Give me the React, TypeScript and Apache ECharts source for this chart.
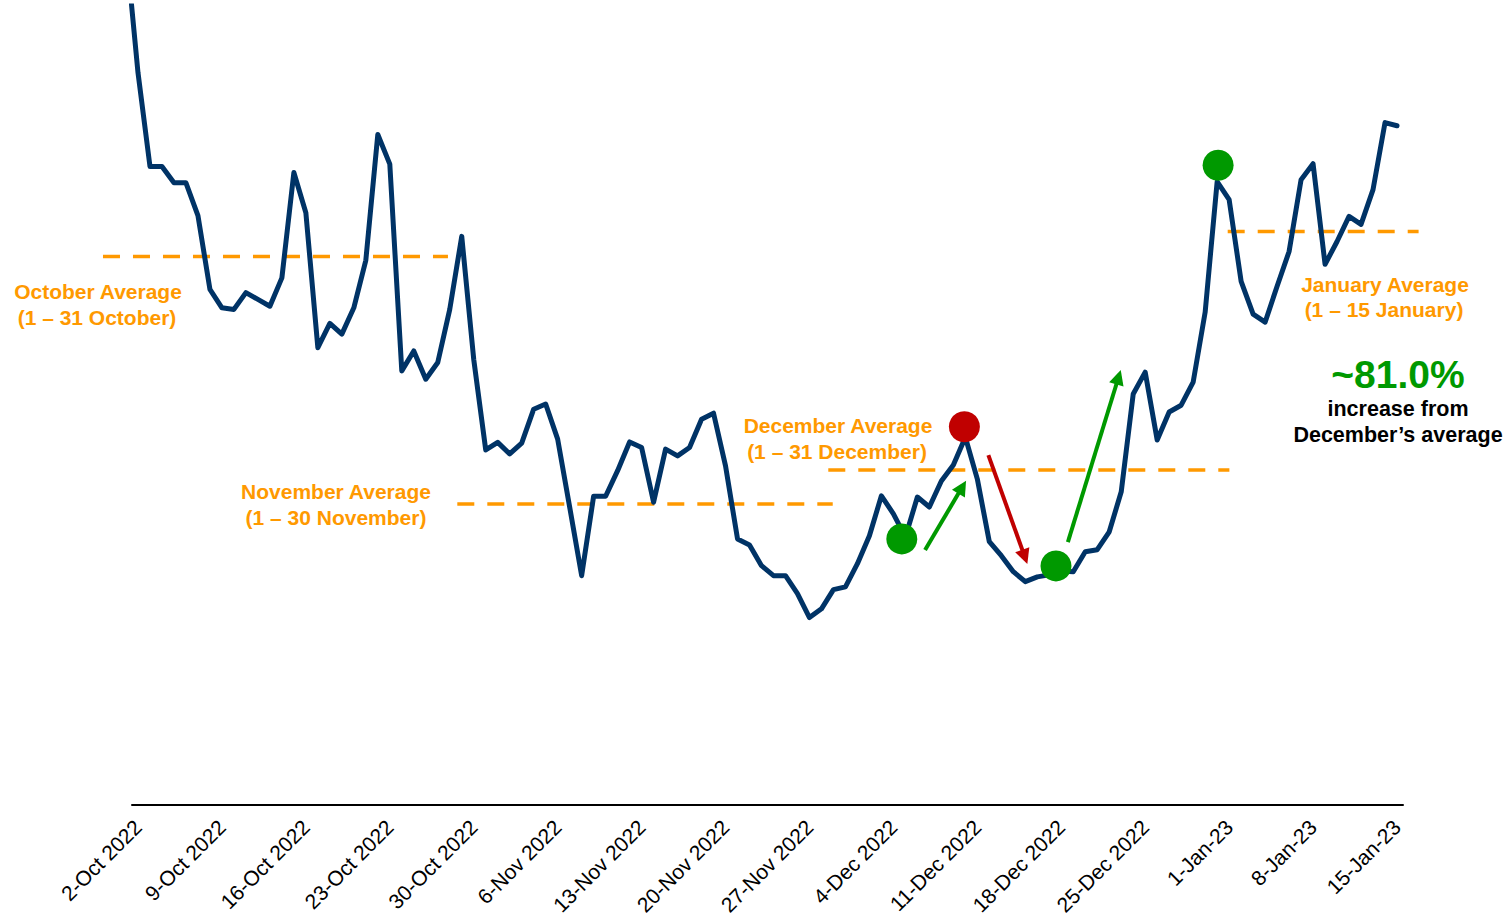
import React, { useEffect, useRef } from "react";
import * as echarts from "echarts";

// x = day index (0 = 2-Oct-2022); first value is 1-Oct (off-chart, clipped)
const values = [
  214.8,
  183.3, 159.8, 159.8, 155.7, 155.7, 147.5, 129.0, 124.4, 124.0, 128.2,
  126.5, 124.8, 131.9, 158.3, 148.2, 114.4, 120.5, 117.8, 124.4, 136.3,
  167.8, 160.4, 108.6, 113.6, 106.5, 110.7, 124.0, 142.3, 111.5, 88.8,
  90.7, 87.8, 90.5, 99.0, 100.3, 91.5, 74.5, 57.3, 77.2, 77.2,
  83.6, 90.8, 89.4, 75.7, 89.0, 87.3, 89.4, 96.5, 98.0, 84.8,
  66.5, 65.0, 59.8, 57.3, 57.3, 52.8, 46.8, 49.0, 53.8, 54.5,
  60.3, 67.3, 77.3, 72.8, 67.0, 77.0, 74.5, 81.0, 85.0, 92.0,
  81.5, 65.8, 62.3, 58.3, 55.8, 57.0, 57.5, 58.5, 58.3, 63.3,
  63.8, 68.3, 78.3, 102.8, 108.3, 91.3, 98.3, 100.0, 105.8, 123.3,
  156.0, 151.5, 131.0, 122.8, 120.8, 129.8, 138.5, 156.5, 160.5, 135.3,
  141.0, 147.3, 145.3, 154.0, 170.8, 170.0,
];

const tickLabels = [
  "2-Oct 2022", "9-Oct 2022", "16-Oct 2022", "23-Oct 2022", "30-Oct 2022",
  "6-Nov 2022", "13-Nov 2022", "20-Nov 2022", "27-Nov 2022", "4-Dec 2022",
  "11-Dec 2022", "18-Dec 2022", "25-Dec 2022", "1-Jan-23", "8-Jan-23", "15-Jan-23",
];

// monthly averages: value and day-index span of the dashed line
const avgValues = [137.25, 75.25, 83.8, 143.5];
const avgSpans = [
  [-2.92, 25.85],
  [26.63, 57.94],
  [57.57, 91.02],
  [90.88, 106.8],
];

const greenMarkers = [
  [63.7, 66.5],
  [76.56, 59.75],
  [90.08, 160.1],
];
const redMarkers = [[68.92, 94.6]];

const upArrows = [
  [[65.64, 63.75], [69.06, 81.1]],
  [[77.55, 65.7], [81.96, 108.8]],
];
const downArrows = [[[70.92, 87.5], [74.17, 60.25]]];

const FONT = "'Liberation Sans', Arial, sans-serif";
const NAVY = "#003366";
const ORANGE = "#FF9900";
const GREEN = "#009900";
const RED = "#C00000";

export default function App() {
  const ref = useRef<HTMLDivElement>(null);

  useEffect(() => {
    if (!ref.current) return;
    const chart = echarts.init(ref.current, null, { renderer: "svg" });

    const lineData = values.map((v, i) => [i - 1, v]);

    const orangeText = (text: string, x: number, y: number) => ({
      type: "text",
      x,
      y,
      silent: true,
      z: 10,
      style: {
        text,
        fill: ORANGE,
        font: `bold 21px ${FONT}`,
        textAlign: "center",
        textVerticalAlign: "middle",
        verticalAlign: "middle",
      },
    });
    const boldText = (text: string, x: number, y: number, size: number, color = "#000") => ({
      type: "text",
      x,
      y,
      silent: true,
      z: 10,
      style: {
        text,
        fill: color,
        font: `bold ${size}px ${FONT}`,
        textAlign: "center",
        textVerticalAlign: "middle",
        verticalAlign: "middle",
      },
    });

    const texts = [
      orangeText("October Average", 98, 291),
      orangeText("(1 – 31 October)", 97, 317),
      orangeText("November Average", 336, 491),
      orangeText("(1 – 30 November)", 336, 517),
      orangeText("December Average", 838, 425),
      orangeText("(1 – 31 December)", 837, 451),
      orangeText("January Average", 1385, 284),
      orangeText("(1 – 15 January)", 1384, 309),
      boldText("~81.0%", 1398, 374, 39, GREEN),
      boldText("increase from", 1398, 409, 21.5),
      boldText("December’s average", 1398, 435, 21.5),
    ];

    chart.setOption({
      animation: false,
      backgroundColor: "#ffffff",
      grid: { left: 132, right: 103, top: 6, bottom: 112, containLabel: false },
      xAxis: {
        type: "value",
        min: -0.5,
        max: 105.5,
        splitLine: { show: false },
        axisTick: { show: false },
        axisLine: { show: true, onZero: false, lineStyle: { color: "#000", width: 2 } },
        axisLabel: {
          show: true,
          customValues: tickLabels.map((_, i) => i * 7),
          formatter: (v: number) => tickLabels[Math.round(v / 7)] ?? "",
          rotate: 45,
          margin: 19,
          fontSize: 21,
          fontFamily: FONT,
          color: "#000",
        },
      },
      yAxis: {
        type: "value",
        min: 0,
        max: 200,
        show: false,
        splitLine: { show: false },
      },
      series: [
        {
          type: "line",
          name: "price",
          data: lineData,
          symbol: "none",
          clip: true,
          z: 2,
          lineStyle: { color: NAVY, width: 5, cap: "round", join: "round" },
        },
        {
          type: "scatter",
          name: "green",
          data: greenMarkers,
          symbol: "circle",
          symbolSize: 31,
          z: 4,
          itemStyle: { color: GREEN, opacity: 1 },
          silent: true,
        },
        {
          type: "scatter",
          name: "red",
          data: redMarkers,
          symbol: "circle",
          symbolSize: 31,
          z: 4,
          itemStyle: { color: RED, opacity: 1 },
          silent: true,
        },
      ],
      graphic: texts,
    });

    // Annotations positioned through the chart's own scales
    const px = (p: number[]) => chart.convertToPixel({ gridIndex: 0 }, p) as number[];

    const avgLines = avgValues.map((v, i) => {
      const a = px([avgSpans[i][0], v]);
      const b = px([avgSpans[i][1], v]);
      return {
        type: "line",
        silent: true,
        z: 1,
        shape: { x1: a[0], y1: a[1], x2: b[0], y2: b[1] },
        style: { stroke: ORANGE, lineWidth: 3.5, lineDash: [17, 13] },
      };
    });

    const arrow = (from: number[], to: number[], color: string) => {
      const a = px(from);
      const b = px(to);
      const dx = b[0] - a[0];
      const dy = b[1] - a[1];
      const len = Math.sqrt(dx * dx + dy * dy);
      const ux = dx / len;
      const uy = dy / len;
      const headLen = 15;
      const headHalf = 7.5;
      const bx = b[0] - ux * headLen;
      const by = b[1] - uy * headLen;
      return [
        {
          type: "line",
          silent: true,
          z: 5,
          shape: { x1: a[0], y1: a[1], x2: bx + ux * 2, y2: by + uy * 2 },
          style: { stroke: color, lineWidth: 4 },
        },
        {
          type: "polygon",
          silent: true,
          z: 5,
          shape: {
            points: [
              [b[0], b[1]],
              [bx - uy * headHalf, by + ux * headHalf],
              [bx + uy * headHalf, by - ux * headHalf],
            ],
          },
          style: { fill: color },
        },
      ];
    };

    const arrowEls = [
      ...upArrows.flatMap((a) => arrow(a[0], a[1], GREEN)),
      ...downArrows.flatMap((a) => arrow(a[0], a[1], RED)),
    ];

    chart.setOption({ graphic: [...texts, ...avgLines, ...arrowEls] }, { replaceMerge: ["graphic"] });

    return () => chart.dispose();
  }, []);

  return (
    <div
      ref={ref}
      style={{ position: "absolute", left: 0, top: 0, width: 1506, height: 918 }}
    />
  );
}
